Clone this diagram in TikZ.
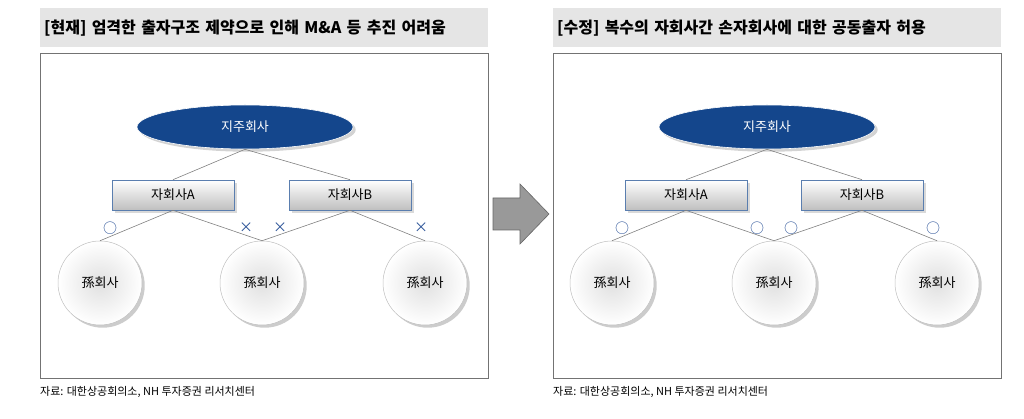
\documentclass[tikz,border=0pt]{standalone}
\usepackage{fontspec}
\setmainfont{Noto Sans CJK KR}
\newfontfamily\kr{Noto Sans CJK KR}
\usetikzlibrary{shapes.geometric,shadows}
\definecolor{navy}{RGB}{20,70,140}
\definecolor{mk}{RGB}{40,80,150}
\begin{document}
\begin{tikzpicture}[x=1pt,y=-1pt,
  title/.style={fill=black!10,minimum width=448pt,minimum height=39pt,anchor=north west,font=\kr\bfseries\fontsize{16}{16}\selectfont,text width=440pt,align=left,inner sep=4pt},
  panel/.style={draw=black!55,line width=0.8pt,minimum width=448pt,minimum height=325pt,anchor=north west},
  hold/.style={ellipse,fill=navy,draw=white,line width=0.6pt,minimum width=216pt,minimum height=44pt,text=white,font=\kr\fontsize{13}{13}\selectfont,drop shadow={opacity=0.35}},
  sub/.style={draw=navy!70,line width=0.6pt,top color=white,bottom color=black!25,minimum width=122pt,minimum height=30pt,font=\kr\fontsize{13}{13}\selectfont,drop shadow={opacity=0.3}},
  gson/.style={circle,draw=black!25,line width=0.5pt,inner color=black!12,outer color=white,minimum size=84pt,font=\kr\fontsize{13}{13}\selectfont,drop shadow={opacity=0.4}},
  link/.style={draw=black!50,line width=0.6pt},
  mk/.style={text=mk,font=\kr\fontsize{14}{14}\selectfont,inner sep=0pt},
  src/.style={anchor=west,font=\kr\fontsize{11}{11}\selectfont,inner sep=0pt}]
\useasboundingbox (0,0) rectangle (1024,419);
% left panel
\node[title] (t1) at (40,8) {[현재] 엄격한 출자구조 제약으로 인해 M\&A 등 추진 어려움};
\node[panel] (p1) at (40,53) {};
\node[hold] (h1) at (245,127) {지주회사};
\node[sub] (a1) at (173,195) {자회사A};
\node[sub] (b1) at (350,195) {자회사B};
\node[gson] (c1) at (100,283) {孫회사};
\node[gson] (c2) at (262,283) {孫회사};
\node[gson] (c3) at (425,283) {孫회사};
\draw[link] (h1.south) -- (a1.north);
\draw[link] (h1.south) -- (b1.north);
\draw[link] (a1.south) -- (c1.north);
\draw[link] (a1.south) -- (c2.north);
\draw[link] (b1.south) -- (c2.north);
\draw[link] (b1.south) -- (c3.north);
\node[mk] (m1) at (110,228) {○};
\node[mk] (m2) at (246,228) {×};
\node[mk] (m3) at (280,228) {×};
\node[mk] (m4) at (421,228) {×};
\node[src] (s1) at (40,392) {자료: 대한상공회의소, NH 투자증권 리서치센터};
% arrow
\draw[draw=black!60,fill=black!40,line width=0.6pt] (493,198) -- (520,198) -- (520,184) -- (549,214) -- (520,244) -- (520,230) -- (493,230) -- cycle;
% right panel
\node[title] (t2) at (553,8) {[수정] 복수의 자회사간 손자회사에 대한 공동출자 허용};
\node[panel] (p2) at (553,53) {};
\node[hold] (h2) at (767,127) {지주회사};
\node[sub] (a2) at (686,195) {자회사A};
\node[sub] (b2) at (862,195) {자회사B};
\node[gson] (d1) at (612,283) {孫회사};
\node[gson] (d2) at (774,283) {孫회사};
\node[gson] (d3) at (937,283) {孫회사};
\draw[link] (h2.south) -- (a2.north);
\draw[link] (h2.south) -- (b2.north);
\draw[link] (a2.south) -- (d1.north);
\draw[link] (a2.south) -- (d2.north);
\draw[link] (b2.south) -- (d2.north);
\draw[link] (b2.south) -- (d3.north);
\node[mk] (n1) at (622,228) {○};
\node[mk] (n2) at (757,228) {○};
\node[mk] (n3) at (791,228) {○};
\node[mk] (n4) at (933,228) {○};
\node[src] (s2) at (553,392) {자료: 대한상공회의소, NH 투자증권 리서치센터};
\end{tikzpicture}
\end{document}
